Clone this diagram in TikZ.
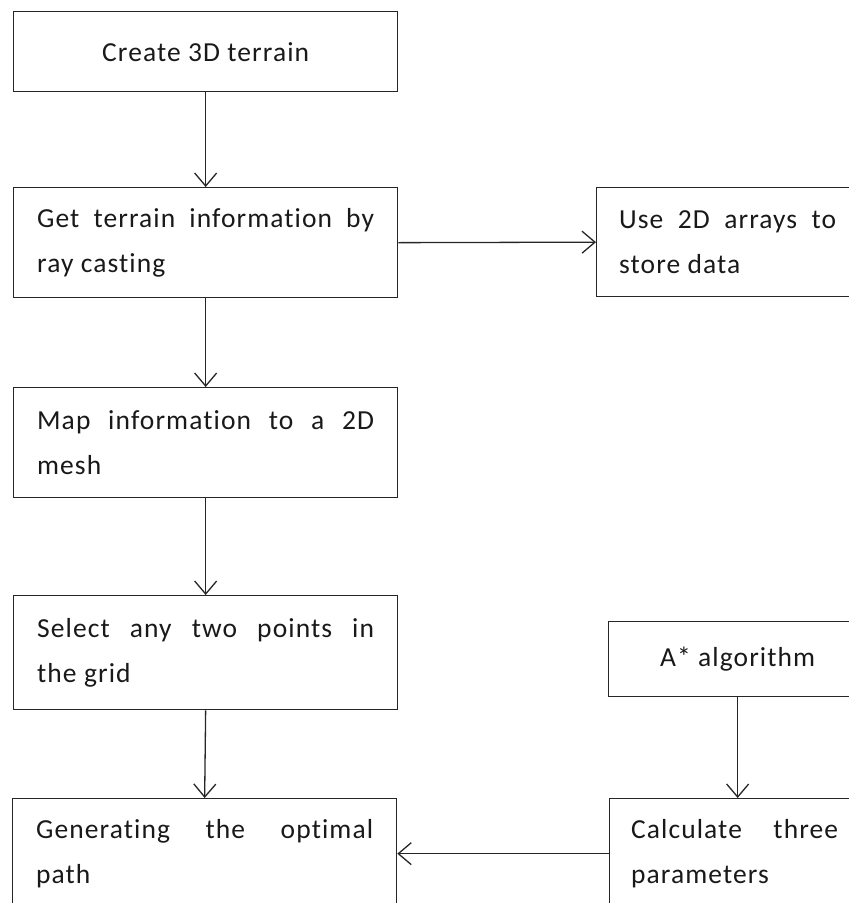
\documentclass[tikz,border=0pt]{standalone}
\usepackage{fontspec}
\setmainfont[LetterSpace=4,RawFeature={-liga;-dlig;-clig}]{Carlito}
\usetikzlibrary{arrows.meta}
\begin{document}
\begin{tikzpicture}[x=1pt,y=-1pt,
  box/.style={draw=black!85,line width=1.3pt,inner sep=0pt,anchor=north west,
    text=black!90,font=\fontsize{27.5}{45}\selectfont},
  jbox/.style={box,align=justify},
  arr/.style={draw=black!85,line width=1.3pt,-{Straight Barb[length=13pt,width=22pt,line width=1.3pt]}}]
\useasboundingbox (0,0) rectangle (849,903);
\clip (0,0) rectangle (849,903);
\node[box,minimum width=384pt,minimum height=80pt] (create) at (13,11) {Create 3D terrain};
\node[jbox,minimum width=384pt,minimum height=110pt,text width=337pt] (get) at (13,187)
  {\hyphenpenalty=10000 Get terrain information by\linebreak ray casting};
\node[jbox,minimum width=262pt,minimum height=109pt,text width=217pt] (use) at (596,187)
  {\hyphenpenalty=10000 Use 2D arrays to\linebreak store data};
\node[jbox,minimum width=384pt,minimum height=110pt,text width=337pt] (map) at (13,387)
  {\hyphenpenalty=10000 Map information to a 2D\linebreak mesh};
\node[jbox,minimum width=384pt,minimum height=114pt,text width=337pt] (select) at (13,595)
  {\hyphenpenalty=10000 Select any two points in\linebreak the grid};
\node[box,minimum width=258pt,minimum height=75pt] (astar) at (608,621) {A* algorithm};
\node[jbox,minimum width=384pt,minimum height=110pt,text width=337pt] (gen) at (12,798)
  {\hyphenpenalty=10000 Generating the optimal\linebreak path};
\node[jbox,minimum width=250pt,minimum height=110pt,text width=207pt] (calc) at (609,798)
  {\hyphenpenalty=10000 Calculate three\linebreak parameters};
\draw[arr] (create.south) -- (get.north);
\draw[arr] (get.east) -- (use.west);
\draw[arr] (get.south) -- (map.north);
\draw[arr] (map.south) -- (select.north);
\draw[arr] (select.south) -- (gen.north);
\draw[arr] (astar.south) -- (astar.south |- calc.north);
\draw[arr] (calc.west) -- (gen.east);
\end{tikzpicture}
\end{document}
